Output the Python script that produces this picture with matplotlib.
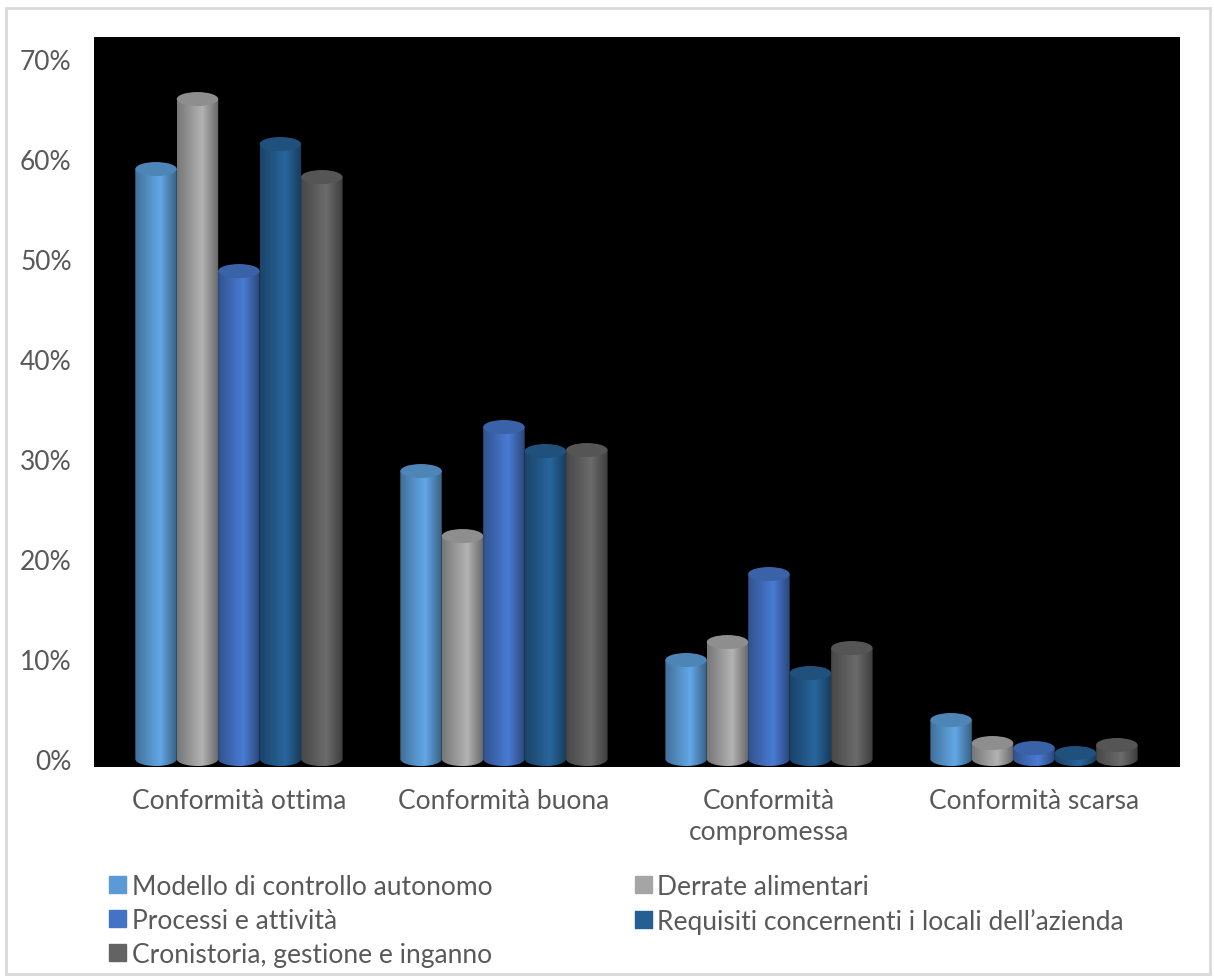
import numpy as np
import matplotlib.pyplot as plt
from matplotlib.patches import Ellipse, Rectangle, PathPatch
from matplotlib.path import Path
from matplotlib.colors import to_rgb

categories = ['Conformità ottima', 'Conformità buona', 'Conformità\ncompromessa', 'Conformità scarsa']
series = ['Modello di controllo autonomo', 'Derrate alimentari', 'Processi e attività',
          'Requisiti concernenti i locali dell\u2019azienda', 'Cronistoria, gestione e inganno']
modello = [59.0, 28.8, 9.9, 3.9]
derrate = [66.0, 22.3, 11.7, 1.6]
processi = [48.8, 33.2, 18.5, 1.1]
requisiti = [61.5, 30.8, 8.6, 0.6]
cronistoria = [58.2, 30.9, 11.1, 1.4]
colors = ['#5B9BD5', '#A5A5A5', '#4472C4', '#255E91', '#636363']
yticks = [0, 10, 20, 30, 40, 50, 60, 70]

values = [modello, derrate, processi, requisiti, cronistoria]
text_color = '#595959'
plt.rcParams['font.family'] = ['Lato', 'DejaVu Sans']

fig = plt.figure(figsize=(12.14, 9.78), dpi=100)
fig.patches.append(Rectangle((0.005, 0.003), 0.992, 0.988, transform=fig.transFigure,
                             fill=False, edgecolor='#d9d9d9', linewidth=2))
ax = fig.add_axes([0.0774, 0.2147, 0.8946, 0.7464])
ax.set_facecolor('black')

w = 0.1564      # width of a single cylinder
eh = 1.4        # height of the elliptical caps (in % units)
shade = np.concatenate([np.linspace(0.72, 1.08, 60), np.linspace(1.08, 0.62, 40)])


def cylinder(x, v, color, z):
    base = np.array(to_rgb(color))
    grad = np.clip(shade[:, None] * base[None, :], 0, 1)[None, :, :]
    # body outline: straight sides with a rounded bottom
    t = np.linspace(np.pi, 2 * np.pi, 40)
    bottom = np.column_stack([x + w / 2 * np.cos(t), eh / 2 * np.sin(t)])
    verts = np.vstack([[x - w / 2, v], bottom, [x + w / 2, v], [x - w / 2, v]])
    body = PathPatch(Path(verts), facecolor='none', edgecolor='none', zorder=z)
    ax.add_patch(body)
    im = ax.imshow(grad, extent=[x - w / 2, x + w / 2, -eh / 2, v], aspect='auto',
                   interpolation='bilinear', zorder=z)
    im.set_clip_path(body)
    top = np.clip(base * 0.86, 0, 1)
    ax.add_patch(Ellipse((x, v), w, eh, facecolor=top, edgecolor='none', zorder=z + 0.5))


for i, (vals, c) in enumerate(zip(values, colors)):
    for j, v in enumerate(vals):
        cylinder(j + (i - 2) * w, v, c, 2 + i)

ax.set_xlim(-0.547, 3.551)
ax.set_ylim(-0.8, 72.2)
ax.set_yticks(yticks)
ax.set_yticklabels([f'{t}%' for t in yticks], fontsize=19, color=text_color)
ax.set_xticks(range(len(categories)))
ax.set_xticklabels(categories, fontsize=19, color=text_color, linespacing=1.3)
ax.tick_params(length=0)
ax.tick_params(axis='y', pad=16)
ax.tick_params(axis='x', pad=15)
for s in ax.spines.values():
    s.set_visible(False)

handles = [Rectangle((0, 0), 1, 1, color=c) for c in colors]
order = [0, 2, 4, 1, 3]
fig.legend([handles[k] for k in order], [series[k] for k in order], ncol=2,
           loc='upper left', bbox_to_anchor=(0.079, 0.119), frameon=False,
           fontsize=19, labelcolor=text_color, handlelength=0.65, handleheight=0.65,
           handletextpad=0.2, labelspacing=0.34, columnspacing=5.4, borderpad=0)

fig.savefig('out.png', dpi=100)
